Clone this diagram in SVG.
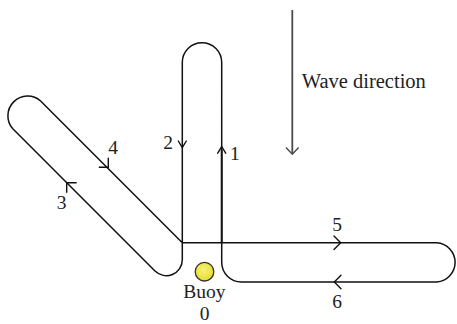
<svg xmlns="http://www.w3.org/2000/svg" width="457" height="324" viewBox="0 0 457 324">
<defs>
<style>
.track{fill:none;stroke:#111;stroke-width:1.5;stroke-linejoin:round}
.head{fill:none;stroke:#111;stroke-width:1.4;stroke-linecap:round;stroke-linejoin:miter}
.wave{fill:none;stroke:#4a4a4a;stroke-width:1.8}
.lbl{font-family:"Liberation Serif","Times New Roman",serif;font-size:19.5px;fill:#222}
</style>
<radialGradient id="buoyFill" cx="45%" cy="40%" r="60%">
<stop offset="0" stop-color="#f7f27a"/>
<stop offset="1" stop-color="#e6dc2e"/>
</radialGradient>
</defs>
<rect width="457" height="324" fill="#fff"/>
<g id="connectors">
<path id="track" class="track" d="M182.3 259.7 L182.3 62.4 A19.7 19.7 0 0 1 221.7 62.4 L221.7 262.3 A19.7 19.7 0 0 0 241.4 282 L436.8 282 A19.7 19.7 0 0 0 436.8 242.7 L182.3 242.7 L40.6 101 A19.7 19.7 0 0 0 12.8 128.8 L155 271 A16 16 0 0 0 182.3 259.7"/>
<line class="track" x1="221.7" y1="242.7" x2="221.7" y2="150" style="stroke-width:1.9"/>
<polyline class="head" points="178.3,141 182.3,147.7 186.3,141"/>
<polyline class="head" points="217.7,153.2 221.7,146.7 225.7,153.2"/>
<polyline class="head" points="99.3,167.3 108.3,167.3 108.3,158.3"/>
<polyline class="head" points="76.2,182.7 66.7,182.7 66.7,192.2"/>
<polyline class="head" points="334,236 340.7,242.7 334,249.4"/>
<polyline class="head" points="341,275.3 334.3,282 341,288.7"/>
<line class="wave" x1="292.3" y1="10" x2="292.3" y2="154"/>
<polyline class="wave" points="286,147.5 292.3,154.3 298.6,147.5" style="stroke-width:1.4"/>
</g>
<g id="buoy">
<circle cx="204.5" cy="271.7" r="9.3" fill="url(#buoyFill)" stroke="#333" stroke-width="1.3"/>
<text class="lbl" x="204.5" y="298" text-anchor="middle">Buoy</text>
<text class="lbl" x="204.5" y="320" text-anchor="middle">0</text>
</g>
<g id="labels">
<text class="lbl" x="163.3" y="149">2</text>
<text class="lbl" x="230" y="160">1</text>
<text class="lbl" x="108.3" y="154">4</text>
<text class="lbl" x="56.7" y="209.3">3</text>
<text class="lbl" x="332.3" y="230.7">5</text>
<text class="lbl" x="332.3" y="308.3">6</text>
<text class="lbl" x="301.7" y="88" style="font-size:20.5px">Wave direction</text>
</g>
</svg>
